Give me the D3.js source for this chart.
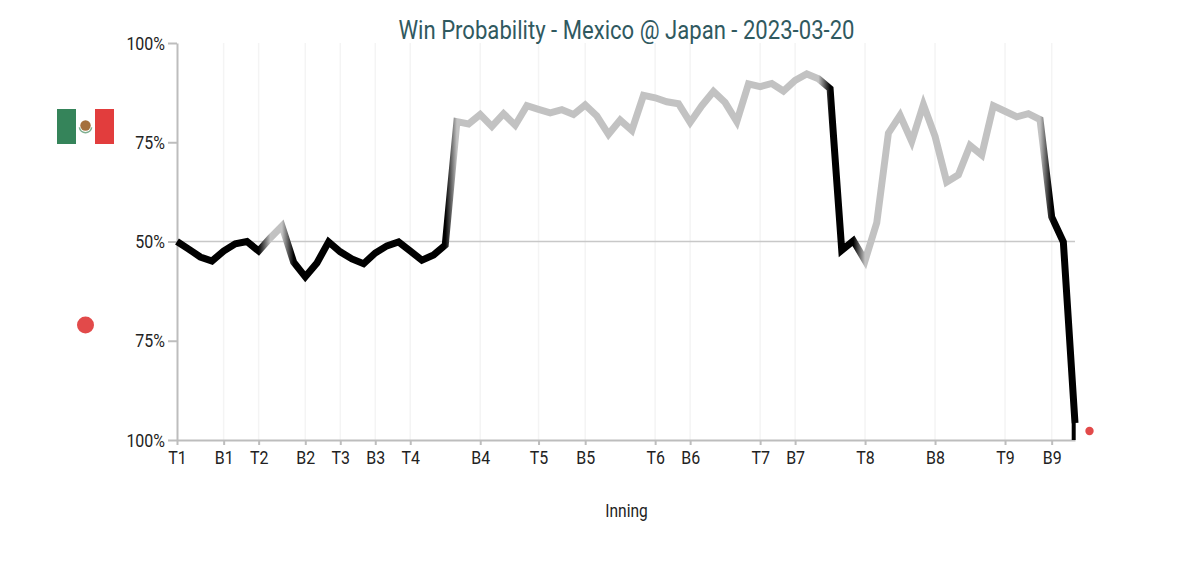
<!DOCTYPE html>
<html>
<head>
<meta charset="utf-8">
<script src="https://cdn.jsdelivr.net/npm/d3@7"></script>
<style>
  body { margin: 0; background: #fff; }
  text { font-family: Roboto, sans-serif; }
</style>
</head>
<body>
<div id="chart"></div>
<script>
// Mexico win probability after each play (percent)
const winProb = [
  50, 48.1, 46.1, 45.1, 47.6, 49.4, 50, 47.6, 50.9, 53.9,
  44.8, 41.1, 44.6, 49.9, 47.4, 45.6, 44.4, 47.1, 48.9, 49.9,
  47.6, 45.3, 46.6, 49.1, 80.2, 79.6, 82, 79, 82.2, 79.3,
  84.2, 83.3, 82.4, 83.2, 82, 84.4, 81.6, 77, 80.6, 78,
  86.8, 86.2, 85.2, 84.7, 80, 84.2, 87.8, 85, 80.2, 89.7,
  89, 89.8, 87.9, 90.6, 92.2, 91, 88.5, 47.8, 50.2, 45.2,
  54.7, 77.3, 81.8, 75.2, 84.5, 76.5, 65, 66.8, 74.2, 71.8,
  84.2, 82.8, 81.4, 82.2, 80.7, 56.2, 49.9, 4.3
]
// who the line is coloured for, as [team, number of plays]
const leaderRuns = [['JPN',8],['MEX',2],['JPN',14],['MEX',32],['JPN',3],['MEX',16],['JPN',3]]
const leader = leaderRuns.flatMap(([team,n]) => d3.range(n).map(() => team))

const inningLabels = ['T1','B1','T2','B2','T3','B3','T4','B4','T5','B5','T6','B6','T7','B7','T8','B8','T9','B9']
const inningPlays = [0,4,7,11,14,17,20,26,31,35,41,44,50,53,59,65,71,75]

const yTicks = [0,25,50,75,100]
const yTickLabels = ['100%','75%','50%','75%','100%']

const title = 'Win Probability - Mexico @ Japan - 2023-03-20'
const xTitle = 'Inning'

const teamColor = { JPN: '#000000', MEX: '#c2c2c2' }
const axisColor = '#bdbdbd'

const svg = d3.select('#chart').append('svg')
  .attr('width',1200)
  .attr('height',570)

//scales
const x = d3.scaleLinear().domain([0,77]).range([177,1075])
const y = d3.scaleLinear().domain([0,100]).range([440,43])

//roboto is a bit wide, squeeze the glyphs to look condensed
function condense(sel,k) {
  sel.each(function() {
    const w = this.getComputedTextLength()
    d3.select(this).attr('textLength',w*k).attr('lengthAdjust','spacingAndGlyphs')
  })
}

//vertical grid
svg.append('g')
  .selectAll('line')
  .data(inningPlays.slice(1))
  .join('line')
  .attr('x1',d => x(d))
  .attr('x2',d => x(d))
  .attr('y1',y(100))
  .attr('y2',y(0))
  .attr('stroke','#f4f4f4')
  .attr('stroke-width',1.5)

//50% line
svg.append('line')
  .attr('x1',x(0))
  .attr('x2',x(77))
  .attr('y1',y(50))
  .attr('y2',y(50))
  .attr('stroke','#c8c8c8')
  .attr('stroke-width',1.5)

//axes
const xAxis = svg.append('g')
  .attr('transform',`translate(0,${y(0)})`)
  .call(d3.axisBottom(x).tickValues(inningPlays).tickFormat((d,i) => inningLabels[i]).tickSize(5).tickPadding(6).tickSizeOuter(0))
const yAxis = svg.append('g')
  .attr('transform',`translate(${x(0)},0)`)
  .call(d3.axisLeft(y).tickValues(yTicks).tickFormat((d,i) => yTickLabels[i]).tickSize(9).tickPadding(3).tickSizeOuter(0))

for (const ax of [xAxis,yAxis]) {
  ax.selectAll('path,line').attr('stroke',axisColor).attr('stroke-width',2)
  ax.selectAll('text').attr('fill','#222').style('font-size','19px').call(condense,0.84)
}

//line colour changes along x, one stop per play
const grad = svg.append('defs').append('linearGradient')
  .attr('id','lead')
  .attr('gradientUnits','userSpaceOnUse')
  .attr('x1',x(0)).attr('x2',x(77))
  .attr('y1',0).attr('y2',0)
grad.selectAll('stop')
  .data(leader)
  .join('stop')
  .attr('offset',(d,i) => i/77)
  .attr('stop-color',d => teamColor[d])

const line = d3.line()
  .x((d,i) => x(i))
  .y(d => y(d))

svg.append('path')
  .datum(winProb)
  .attr('d',line)
  .attr('fill','none')
  .attr('stroke','url(#lead)')
  .attr('stroke-width',7)
  .attr('stroke-linejoin','miter')
  .attr('stroke-miterlimit',10)

//last bit down to the axis is thinner in the original
svg.append('line')
  .attr('x1',x(77)-1.3)
  .attr('x2',x(77)-1.3)
  .attr('y1',y(winProb[77]))
  .attr('y2',y(0))
  .attr('stroke',teamColor.JPN)
  .attr('stroke-width',4)

//end marker
svg.append('circle')
  .attr('cx',1089.5)
  .attr('cy',431)
  .attr('r',4.2)
  .attr('fill','#e24a4a')

//title and axis title
svg.append('text')
  .attr('x',626.5)
  .attr('y',39)
  .attr('text-anchor','middle')
  .attr('fill','#30595f')
  .style('font-size','26px')
  .text(title)
  .call(condense,0.85)

svg.append('text')
  .attr('x',626.5)
  .attr('y',517)
  .attr('text-anchor','middle')
  .attr('fill','#222')
  .style('font-size','18.5px')
  .text(xTitle)
  .call(condense,0.84)

//flags
const mex = svg.append('g').attr('transform','translate(57,109)')
mex.append('rect').attr('width',19).attr('height',35).attr('fill','#35845a')
mex.append('rect').attr('x',38).attr('width',19).attr('height',35).attr('fill','#e23d3d')
mex.append('path')
  .attr('d',d3.arc()({innerRadius:5.5,outerRadius:7,startAngle:Math.PI*0.55,endAngle:Math.PI*1.45}))
  .attr('transform','translate(28.5,17.5)')
  .attr('fill','#7fae90')
mex.append('circle').attr('cx',28.5).attr('cy',16.5).attr('r',5.2).attr('fill','#a4703e')

svg.append('circle')
  .attr('cx',85.5)
  .attr('cy',325)
  .attr('r',8.5)
  .attr('fill','#e24a4a')
</script>
</body>
</html>
